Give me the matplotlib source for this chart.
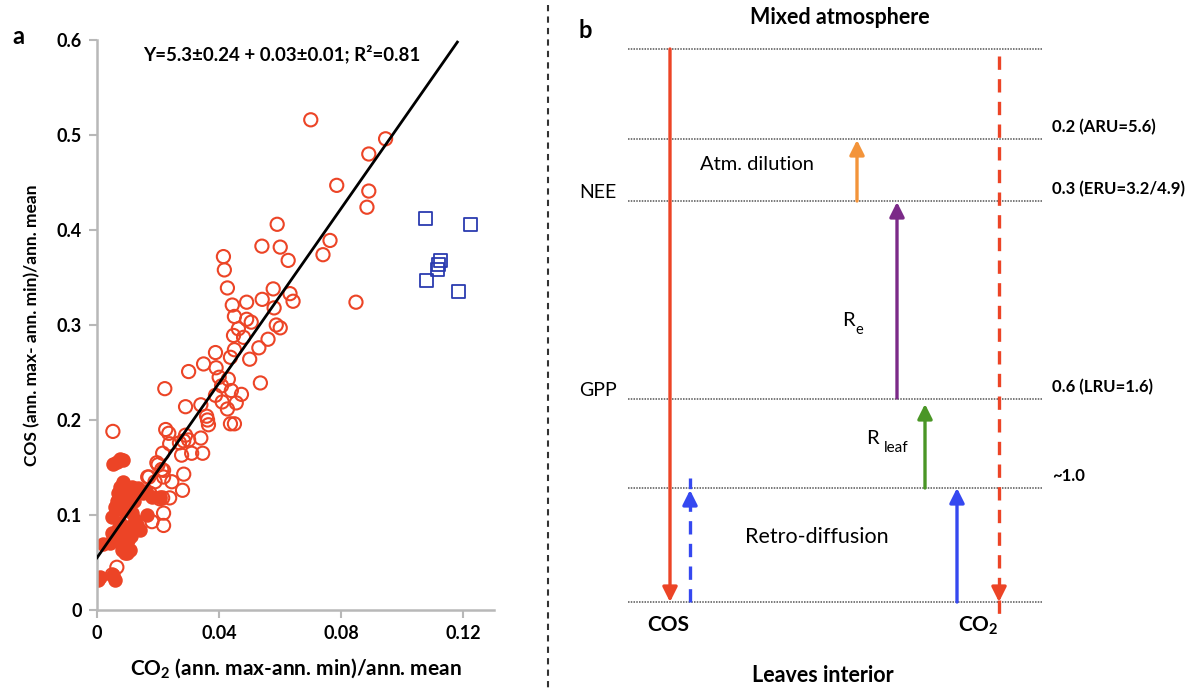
import numpy as np
import matplotlib
matplotlib.use("Agg")
import matplotlib.pyplot as plt

plt.rcParams['font.family'] = ['Lato', 'DejaVu Sans']
plt.rcParams['mathtext.fontset'] = 'custom'
plt.rcParams['mathtext.rm'] = 'Lato'
plt.rcParams['mathtext.bf'] = 'Lato:bold'
plt.rcParams['mathtext.it'] = 'Lato:italic'

# panel a data: CO2 seasonal amplitude vs COS seasonal amplitude
open_x = [0.070, 0.0945, 0.089, 0.0785, 0.089, 0.0884, 0.059, 0.054, 0.060, 0.0626,
          0.0763, 0.074, 0.0577, 0.0632, 0.0642, 0.0541, 0.049, 0.058, 0.0848,
          0.0414, 0.0417, 0.0427, 0.0443, 0.045, 0.049, 0.0505, 0.0463, 0.0447, 0.048,
          0.0587, 0.060, 0.056, 0.053, 0.045, 0.0388, 0.0437, 0.050, 0.0349, 0.039,
          0.030, 0.040, 0.043, 0.0535, 0.0222, 0.0408, 0.044, 0.0473, 0.0388, 0.041,
          0.0456, 0.029, 0.034, 0.0052, 0.0427, 0.0362, 0.0365, 0.0437, 0.045, 0.0359,
          0.0225, 0.0235, 0.0238, 0.027, 0.0284, 0.029, 0.030, 0.034, 0.031, 0.0346,
          0.0215, 0.0277, 0.020, 0.0218, 0.0284, 0.0245, 0.028, 0.017, 0.019, 0.0218,
          0.0238, 0.0215, 0.0173, 0.0218, 0.018, 0.0218, 0.0065, 0.005, 0.0196, 0.0212,
          0.0166, 0.0206]
open_y = [0.516, 0.496, 0.480, 0.447, 0.441, 0.424, 0.406, 0.383, 0.382, 0.368,
          0.389, 0.374, 0.338, 0.333, 0.325, 0.327, 0.324, 0.318, 0.324,
          0.372, 0.358, 0.339, 0.321, 0.309, 0.306, 0.303, 0.296, 0.289, 0.287,
          0.300, 0.297, 0.285, 0.276, 0.274, 0.271, 0.266, 0.264, 0.259, 0.255,
          0.251, 0.245, 0.243, 0.239, 0.233, 0.236, 0.231, 0.227, 0.226, 0.219,
          0.218, 0.214, 0.216, 0.188, 0.2116, 0.200, 0.195, 0.196, 0.196, 0.204,
          0.190, 0.186, 0.175, 0.176, 0.178, 0.184, 0.179, 0.181, 0.165, 0.165,
          0.165, 0.163, 0.153, 0.147, 0.143, 0.135, 0.126, 0.140, 0.135, 0.140,
          0.118, 0.118, 0.123, 0.102, 0.093, 0.089, 0.045, 0.037, 0.155, 0.148,
          0.140, 0.117]

filled_x = [0.0065, 0.0075, 0.0052, 0.0085, 0.0075, 0.0114, 0.0134, 0.015, 0.010, 0.0068,
            0.0059, 0.0085, 0.0114, 0.0124, 0.0049, 0.0075, 0.010, 0.013, 0.0085, 0.010,
            0.0068, 0.0042, 0.0082, 0.0091, 0.001, 0.0003, 0.0059, 0.0052, 0.018, 0.0205,
            0.002, 0.005, 0.0108, 0.0098, 0.016, 0.012, 0.0065, 0.009, 0.007, 0.011,
            0.014, 0.0165, 0.0085]
filled_y = [0.156, 0.159, 0.154, 0.135, 0.130, 0.130, 0.128, 0.123, 0.123, 0.123,
            0.108, 0.105, 0.102, 0.095, 0.098, 0.092, 0.087, 0.089, 0.081, 0.074,
            0.074, 0.071, 0.063, 0.060, 0.035, 0.032, 0.032, 0.037, 0.119, 0.119,
            0.070, 0.081, 0.063, 0.060, 0.125, 0.115, 0.115, 0.112, 0.085, 0.078,
            0.084, 0.100, 0.158]

square_x = [0.1076, 0.1223, 0.1118, 0.1115, 0.108, 0.1183, 0.1125]
square_y = [0.412, 0.406, 0.364, 0.358, 0.347, 0.335, 0.368]

fit_intercept = 0.055
fit_slope = 4.6
fit_xmax = 0.118

# panel b data
level_labels = ["", "0.2 (ARU=5.6)", "0.3 (ERU=3.2/4.9)", "0.6 (LRU=1.6)", "~1.0", ""]
level_names = ["", "", "NEE", "GPP", "", ""]

red = '#ec4426'
fig = plt.figure(figsize=(11.91, 6.93), dpi=100)

# ---- panel a ----
ax = fig.add_axes([97 / 1191, 83 / 693, 397 / 1191, 570 / 693])
ax.scatter(open_x, open_y, s=90, facecolors='none', edgecolors=red, linewidths=1.5, zorder=2)
ax.scatter(filled_x, filled_y, s=80, color=red, edgecolors=red, linewidths=1.5, zorder=2)
ax.scatter(square_x, square_y, s=90, marker='s', facecolors='none', edgecolors='#2b3bb0',
           linewidths=1.3, zorder=2)
xf = np.array([0, fit_xmax])
ax.plot(xf, fit_intercept + fit_slope * xf, color='black', lw=2, zorder=3)

ax.set_xlim(0, 0.13)
ax.set_ylim(0, 0.6)
ax.set_xticks([0, 0.04, 0.08, 0.12])
ax.set_xticklabels(['0', '0.04', '0.08', '0.12'])
ax.set_yticks([0, 0.1, 0.2, 0.3, 0.4, 0.5, 0.6])
ax.set_yticklabels(['0', '0.1', '0.2', '0.3', '0.4', '0.5', '0.6'])
for s in ['top', 'right']:
    ax.spines[s].set_visible(False)
for s in ['left', 'bottom']:
    ax.spines[s].set_color('#b8b8b8')
    ax.spines[s].set_linewidth(1.8)
ax.tick_params(direction='out', length=6, width=1.5, color='#b8b8b8', labelsize=13, pad=5)
for lab in ax.get_xticklabels() + ax.get_yticklabels():
    lab.set_fontweight('bold')
ax.set_xlabel(r"CO$_\mathbf{2}$ (ann. max-ann. min)/ann. mean", fontsize=15,
              fontweight='bold', labelpad=10)
ax.set_ylabel("COS (ann. max- ann. min)/ann. mean", fontsize=12.5, fontweight='bold', labelpad=12)
ax.text(0.465, 0.975, "Y=5.3±0.24 + 0.03±0.01; R²=0.81", transform=ax.transAxes,
        ha='center', va='center', fontsize=13.5, fontweight='bold')

# ---- panel b (drawn in pixel frame) ----
bx = fig.add_axes([0, 0, 1, 1])
bx.set_xlim(0, 1191)
bx.set_ylim(693, 0)
bx.axis('off')
bx.patch.set_visible(False)

bx.text(12, 36, "a", fontsize=17, fontweight='bold', ha='left', va='center')
bx.text(578, 30, "b", fontsize=17, fontweight='bold', ha='left', va='center')
bx.plot([548, 548], [5, 690], color='#333333', lw=1.5, ls=(0, (3, 2.5)))

levels_y = [49, 139, 201, 399, 488, 602]
for yy, lab, nm in zip(levels_y, level_labels, level_names):
    bx.plot([628, 1042], [yy, yy], color='#555555', lw=1.1, ls=(0, (1, 0.8)))
    if lab:
        bx.text(1052, yy - 12, lab, fontsize=12, fontweight='bold', ha='left', va='center')
    if nm:
        bx.text(598, yy - 9, nm, fontsize=14, ha='center', va='center')

def arrow(x, y0, y1, color, dashed=False):
    if dashed:
        bx.plot([x, x], [y0, y1 + (12 if y1 > y0 else -12)], color=color, lw=2.4,
                ls=(0, (4, 2.8)))
        bx.annotate('', xy=(x, y1), xytext=(x, y1 + (-14 if y1 > y0 else 14)),
                    arrowprops=dict(arrowstyle='-|>', color=color, lw=2.4,
                                    mutation_scale=22, shrinkA=0, shrinkB=0))
    else:
        bx.annotate('', xy=(x, y1), xytext=(x, y0),
                    arrowprops=dict(arrowstyle='-|>', color=color, lw=2.4,
                                    mutation_scale=22, shrinkA=0, shrinkB=0))

arrow(670, 49, 602, red)
arrow(999, 56, 602, red, dashed=True)
arrow(690, 602, 490, '#3548f0', dashed=True)
arrow(957, 602, 488, '#3548f0')
arrow(925, 488, 404, '#4a9626')
arrow(897, 398, 202, '#7b2a88')
arrow(857, 201, 140, '#f3943a')

bx.text(840, 17, "Mixed atmosphere", fontsize=15.5, fontweight='bold', ha='center', va='center')
bx.text(757, 164, "Atm. dilution", fontsize=14.5, ha='center', va='center')
bx.text(848, 321, "R", fontsize=14.5, ha='center', va='center')
bx.text(855, 330, "e", fontsize=10.5, ha='left', va='center')
bx.text(872, 438, "R", fontsize=14.5, ha='center', va='center')
bx.text(884, 448, "leaf", fontsize=11, ha='left', va='center')
bx.text(817, 537, "Retro-diffusion", fontsize=15.5, ha='center', va='center')
bx.text(668, 625, "COS", fontsize=15, fontweight='bold', ha='center', va='center')
bx.text(978, 626, r"CO$_\mathbf{2}$", fontsize=15, fontweight='bold', ha='center', va='center')
bx.text(823, 675, "Leaves interior", fontsize=15.5, fontweight='bold', ha='center', va='center')

fig.savefig("out.png", dpi=100)
